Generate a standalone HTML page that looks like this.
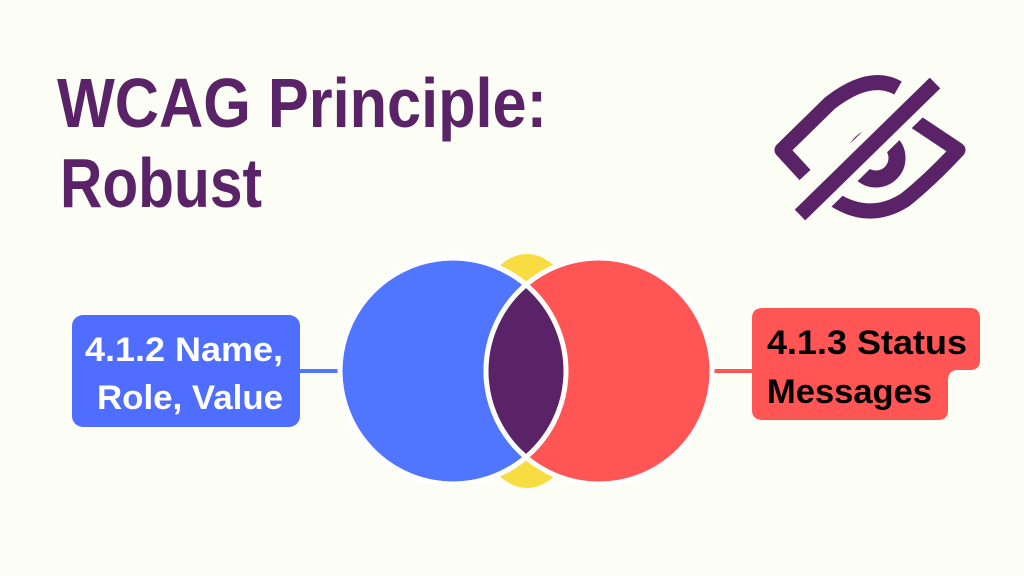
<!DOCTYPE html>
<html><head><meta charset="utf-8"><style>
html,body{margin:0;padding:0;background:#fcfdf5;}
svg{display:block}
</style></head><body>
<svg width="1024" height="576" viewBox="0 0 1024 576" xmlns="http://www.w3.org/2000/svg">
<rect width="1024" height="576" fill="#fcfdf5"/>
<g font-family="Liberation Sans, sans-serif" font-weight="bold" fill="#5b2367">
<text x="57" y="127" font-size="70" textLength="490" lengthAdjust="spacingAndGlyphs">WCAG Principle:</text>
<text x="60" y="207" font-size="70" textLength="202" lengthAdjust="spacingAndGlyphs">Robust</text>
</g>
<!-- eye icon -->
<g fill="none" stroke="#5b2367" stroke-width="15" stroke-linejoin="round">
<path d="M805,175 L782,150 L830,103 Q870,72 898,88"/>
<path d="M910,118 L958,150 Q930,180 905,200 Q870,222 835,200"/>
<circle cx="876" cy="158" r="21" stroke-width="17"/>
<line x1="800" y1="215" x2="935" y2="83" stroke="#fcfdf5" stroke-width="32"/>
<line x1="800" y1="215" x2="935" y2="83" stroke-width="15" stroke-linecap="butt"/>
</g>
<!-- connectors -->
<line x1="298" y1="371" x2="340" y2="371" stroke="#5075ff" stroke-width="4"/>
<line x1="712" y1="371" x2="754" y2="371" stroke="#ff5555" stroke-width="4"/>
<!-- yellow behind -->
<ellipse cx="527" cy="371" rx="62" ry="117" fill="#f5d415" opacity="0.8"/>
<!-- circles -->
<circle cx="453" cy="371" r="113" fill="#5075ff" stroke="#fff" stroke-width="5"/>
<circle cx="599" cy="371" r="113" fill="#ff5555" stroke="#fff" stroke-width="5"/>
<clipPath id="cl"><circle cx="453" cy="371" r="113"/></clipPath>
<circle cx="599" cy="371" r="113" fill="#5b2367" clip-path="url(#cl)"/>
<circle cx="599" cy="371" r="113" fill="none" stroke="#fff" stroke-width="5" clip-path="url(#cl)"/>
<circle cx="453" cy="371" r="113" fill="none" stroke="#fff" stroke-width="5"/>
<!-- boxes -->
<rect x="72" y="315" width="228" height="112" rx="11" fill="#4f6eff"/>
<g font-family="Liberation Sans, sans-serif" font-weight="bold" font-size="34">
<text x="85" y="361" fill="#fff" textLength="198" lengthAdjust="spacingAndGlyphs">4.1.2 Name,</text>
<text x="97" y="409" fill="#fff" textLength="186" lengthAdjust="spacingAndGlyphs">Role, Value</text>
</g>
<path d="M763,308 H970 Q980,308 980,318 V360 Q980,370 970,370 H958 Q948,370 948,380 V410 Q948,420 938,420 H763 Q752,420 752,410 V318 Q752,308 763,308 Z" fill="#ff5555"/>
<g font-family="Liberation Sans, sans-serif" font-weight="bold" font-size="34" fill="#000">
<text x="767" y="354" textLength="200" lengthAdjust="spacingAndGlyphs">4.1.3 Status</text>
<text x="767" y="403" textLength="165" lengthAdjust="spacingAndGlyphs">Messages</text>
</g>
</svg>
</body></html>
